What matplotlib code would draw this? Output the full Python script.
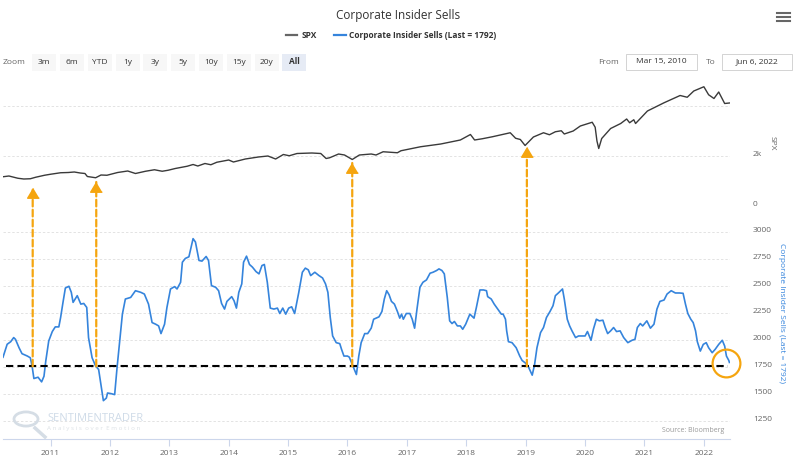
import matplotlib
matplotlib.use("Agg")
import matplotlib.pyplot as plt
from matplotlib.patches import ConnectionPatch, Rectangle, Circle
from matplotlib.lines import Line2D

plt.rcParams['font.family'] = ['Open Sans', 'DejaVu Sans']

W, H = 796, 469

# SPX weekly closes (decimal years)
spx_t = [2010.20, 2010.30, 2010.45, 2010.55, 2010.66, 2010.75, 2010.90, 2011.00, 2011.17, 2011.30,
         2011.40, 2011.50, 2011.58, 2011.62, 2011.76, 2011.85, 2011.95, 2012.13, 2012.30, 2012.43,
         2012.60, 2012.75, 2012.88, 2012.98, 2013.10, 2013.30, 2013.40, 2013.48, 2013.60, 2013.70,
         2013.80, 2014.00, 2014.08, 2014.28, 2014.50, 2014.66, 2014.79, 2014.92, 2015.02, 2015.15,
         2015.40, 2015.55, 2015.64, 2015.70, 2015.85, 2015.95, 2016.08, 2016.20, 2016.40, 2016.48,
         2016.60, 2016.84, 2016.90, 2017.23, 2017.57, 2017.90, 2018.07, 2018.14, 2018.27, 2018.44,
         2018.74, 2018.83, 2018.91, 2018.99, 2019.13, 2019.30, 2019.40, 2019.50, 2019.60, 2019.65,
         2019.80, 2019.92, 2020.12, 2020.17, 2020.20, 2020.23, 2020.28, 2020.43, 2020.60, 2020.70,
         2020.75, 2020.82, 2020.85, 2021.05, 2021.33, 2021.60, 2021.72, 2021.83, 2022.00, 2022.08,
         2022.17, 2022.25, 2022.35, 2022.43]
spx_v = [1170, 1200, 1110, 1080, 1090, 1150, 1230, 1270, 1330, 1340,
         1360, 1320, 1300, 1180, 1130, 1240, 1230, 1340, 1400, 1300,
         1390, 1450, 1390, 1430, 1500, 1590, 1660, 1600, 1700, 1650,
         1750, 1840, 1760, 1880, 1960, 2000, 1880, 2060, 2010, 2100,
         2120, 2100, 1900, 1930, 2080, 2040, 1860, 2040, 2080, 2040,
         2170, 2130, 2210, 2370, 2480, 2640, 2860, 2640, 2690, 2770,
         2930, 2710, 2660, 2420, 2760, 2930, 2850, 2970, 3010, 2880,
         3000, 3200, 3350, 3150, 2600, 2300, 2700, 3100, 3300, 3480,
         3330, 3450, 3300, 3800, 4130, 4420, 4350, 4600, 4770, 4450,
         4300, 4560, 4100, 4120]

# Corporate insider sells
ins_t = [2010.20, 2010.27, 2010.33, 2010.38, 2010.41, 2010.47, 2010.52, 2010.61, 2010.66, 2010.69,
         2010.72, 2010.79, 2010.85, 2010.89, 2010.92, 2010.97, 2011.03, 2011.08, 2011.14, 2011.17,
         2011.21, 2011.25, 2011.31, 2011.35, 2011.38, 2011.45, 2011.51, 2011.56, 2011.61, 2011.64,
         2011.70, 2011.76, 2011.81, 2011.84, 2011.89, 2011.94, 2011.96, 2012.02, 2012.08, 2012.12,
         2012.17, 2012.21, 2012.26, 2012.35, 2012.43, 2012.52, 2012.58, 2012.65, 2012.71, 2012.77,
         2012.82, 2012.86, 2012.92, 2012.96, 2013.02, 2013.09, 2013.13, 2013.19, 2013.22, 2013.27,
         2013.33, 2013.40, 2013.44, 2013.50, 2013.55, 2013.62, 2013.66, 2013.71, 2013.78, 2013.83,
         2013.88, 2013.93, 2013.97, 2014.05, 2014.09, 2014.13, 2014.17, 2014.22, 2014.25, 2014.30,
         2014.35, 2014.40, 2014.46, 2014.51, 2014.56, 2014.60, 2014.65, 2014.70, 2014.76, 2014.82,
         2014.86, 2014.91, 2014.96, 2015.01, 2015.06, 2015.11, 2015.18, 2015.24, 2015.29, 2015.34,
         2015.38, 2015.45, 2015.52, 2015.58, 2015.63, 2015.67, 2015.71, 2015.75, 2015.81, 2015.87,
         2015.90, 2015.94, 2016.00, 2016.03, 2016.08, 2016.15, 2016.19, 2016.23, 2016.29, 2016.34,
         2016.40, 2016.44, 2016.53, 2016.58, 2016.62, 2016.66, 2016.70, 2016.74, 2016.79, 2016.84,
         2016.88, 2016.91, 2016.94, 2016.99, 2017.05, 2017.09, 2017.13, 2017.17, 2017.22, 2017.27,
         2017.33, 2017.39, 2017.44, 2017.50, 2017.54, 2017.59, 2017.63, 2017.68, 2017.72, 2017.76,
         2017.80, 2017.85, 2017.90, 2017.94, 2017.99, 2018.06, 2018.13, 2018.17, 2018.23, 2018.29,
         2018.34, 2018.36, 2018.42, 2018.47, 2018.53, 2018.59, 2018.62, 2018.66, 2018.68, 2018.71,
         2018.77, 2018.84, 2018.90, 2018.94, 2018.99, 2019.04, 2019.11, 2019.15, 2019.19, 2019.25,
         2019.30, 2019.35, 2019.41, 2019.46, 2019.50, 2019.55, 2019.62, 2019.65, 2019.70, 2019.74,
         2019.78, 2019.84, 2019.89, 2019.95, 2020.00, 2020.04, 2020.10, 2020.14, 2020.19, 2020.24,
         2020.30, 2020.34, 2020.38, 2020.43, 2020.48, 2020.53, 2020.59, 2020.65, 2020.72, 2020.79,
         2020.84, 2020.88, 2020.93, 2020.97, 2021.04, 2021.10, 2021.16, 2021.21, 2021.26, 2021.33,
         2021.38, 2021.45, 2021.52, 2021.59, 2021.65, 2021.69, 2021.73, 2021.78, 2021.82, 2021.86,
         2021.89, 2021.94, 2021.99, 2022.04, 2022.08, 2022.14, 2022.19, 2022.25, 2022.31, 2022.35,
         2022.38, 2022.42, 2022.43]
ins_v = [1840, 1960, 1984, 2022, 2006, 1928, 1873, 1851, 1835, 1758,
         1643, 1655, 1612, 1664, 1804, 1991, 2078, 2121, 2121, 2208,
         2348, 2481, 2497, 2441, 2348, 2410, 2332, 2338, 2301, 2022,
         1835, 1758, 1727, 1618, 1438, 1462, 1509, 1503, 1494, 1742,
         2022, 2239, 2379, 2394, 2456, 2441, 2425, 2332, 2161, 2146,
         2130, 2059, 2146, 2301, 2472, 2494, 2472, 2534, 2720, 2755,
         2770, 2938, 2907, 2736, 2730, 2773, 2736, 2503, 2488, 2456,
         2338, 2286, 2357, 2401, 2363, 2295, 2441, 2519, 2720, 2776,
         2699, 2674, 2633, 2612, 2689, 2699, 2534, 2295, 2286, 2295,
         2245, 2295, 2239, 2295, 2307, 2245, 2441, 2627, 2665, 2649,
         2596, 2627, 2596, 2574, 2519, 2441, 2208, 2037, 1975, 1966,
         1913, 1851, 1851, 1841, 1773, 1680, 1851, 1975, 2059, 2059,
         2110, 2192, 2214, 2264, 2379, 2456, 2419, 2357, 2332, 2264,
         2202, 2239, 2192, 2245, 2245, 2192, 2109, 2286, 2488, 2534,
         2556, 2618, 2627, 2643, 2658, 2643, 2612, 2394, 2177, 2152,
         2171, 2130, 2130, 2099, 2146, 2239, 2202, 2301, 2463, 2463,
         2456, 2401, 2379, 2332, 2286, 2239, 2239, 2192, 2084, 1984,
         1975, 1928, 1851, 1810, 1789, 1758, 1674, 1773, 1928, 2068,
         2115, 2208, 2264, 2317, 2410, 2435, 2472, 2379, 2192, 2130,
         2084, 2022, 2037, 2037, 2037, 2078, 1997, 2099, 2192, 2177,
         2183, 2115, 2059, 2084, 2115, 2078, 2084, 2022, 1975, 1997,
         2006, 2115, 2152, 2130, 2177, 2109, 2146, 2286, 2357, 2370,
         2425, 2456, 2435, 2435, 2432, 2332, 2245, 2192, 2161, 2084,
         1984, 1897, 1959, 1975, 1928, 1882, 1913, 1959, 1997, 1944,
         1851, 1810, 1792]

threshold = 1755
last_value = 1792
year_ticks = list(range(2011, 2023))
spx_ticks = [0, 2000, 4000]
spx_tick_labels = ["0", "2k", ""]
ins_ticks = [1250, 1500, 1750, 2000, 2250, 2500, 2750, 3000]

# buy-signal arrows: date and where the head touches the SPX pane
arrow_dates = [2010.70, 2011.77, 2016.08, 2019.02]
arrow_tips = [720, 960, 1720, 2360]

zoom_buttons = ["3m", "6m", "YTD", "1y", "3y", "5y", "10y", "15y", "20y", "All"]
button_x = [32, 60, 88, 116, 143, 171, 199, 227, 255, 282]

BLUE = '#3584dc'
ORANGE = '#f5a50f'
GRID = '#e3e3e3'
TXT = '#666666'
AXIS = '#ccd6eb'


def fx(x):
    return x / W


def fy(y):
    return 1 - y / H


fig = plt.figure(figsize=(W / 100, H / 100), dpi=100)
ax_up = fig.add_axes([fx(3), fy(206), (730 - 3) / W, (206 - 84) / H])
ax_lo = fig.add_axes([fx(3), fy(439), (730 - 3) / W, (439 - 215) / H])

for ax in (ax_up, ax_lo):
    ax.set_facecolor('none')
    ax.set_xlim(2010.2, 2022.44)
    for s in ax.spines.values():
        s.set_visible(False)
    ax.yaxis.tick_right()
    ax.tick_params(axis='y', length=0, pad=16.5, labelsize=6, labelcolor=TXT)
    ax.grid(axis='y', color=GRID, lw=0.7, linestyle=(0, (2.5, 2)))
    ax.set_axisbelow(True)

# upper pane: SPX
ax_up.plot(spx_t, spx_v, color='#3a3a3a', lw=1.0)
ax_up.set_ylim(0, 4880)
ax_up.set_yticks(spx_ticks)
ax_up.set_yticklabels(spx_tick_labels)
ax_up.set_xticks([])
for lbl in ax_up.get_yticklabels():
    lbl.set_verticalalignment('baseline')

# lower pane: insider sells
ax_lo.plot(ins_t, ins_v, color=BLUE, lw=1.2)
ax_lo.set_ylim(1083, 3157)
ax_lo.set_yticks(ins_ticks)
for lbl in ax_lo.get_yticklabels():
    lbl.set_verticalalignment('baseline')
ax_lo.axhline(threshold, xmin=0.004, xmax=0.997, color='black', lw=1.5, dashes=(3.5, 2))
ax_lo.spines['bottom'].set_visible(True)
ax_lo.spines['bottom'].set_color(AXIS)
ax_lo.set_xticks(year_ticks)
ax_lo.tick_params(axis='x', length=5, color=AXIS, labelsize=6, labelcolor=TXT, pad=3)

# circle around latest reading
ax_lo.plot([2022.38], [1787], marker='o', ms=20, mfc='none', mec=ORANGE, mew=1.6,
           clip_on=False, zorder=6)

# dashed orange arrows from threshold crossing up to SPX
head = [(0, 0), (-0.6, -1), (0.6, -1)]
for t, tip in zip(arrow_dates, arrow_tips):
    con = ConnectionPatch(xyA=(t, threshold), coordsA=ax_lo.transData,
                          xyB=(t, tip), coordsB=ax_up.transData,
                          color=ORANGE, lw=1.6, linestyle=(0, (3, 1.5)))
    fig.add_artist(con)
    ax_up.plot([t], [tip], marker=head, ms=14, color=ORANGE, clip_on=False, zorder=5)

# axis titles
fig.text(fx(772), fy(143), "SPX", rotation=270, ha='center', va='center',
         fontsize=6, color=TXT)
fig.text(fx(782), fy(313), "Corporate Insider Sells (Last = %d)" % last_value, rotation=270,
         ha='center', va='center', fontsize=6, color=BLUE)

# title + legend
fig.text(fx(398), fy(15), "Corporate Insider Sells", ha='center', va='center',
         fontsize=8.5, color='#333333')
fig.add_artist(Line2D([fx(286), fx(297)], [fy(35), fy(35)], color='#666666', lw=1.6))
fig.text(fx(302), fy(35), "SPX", ha='left', va='center', fontsize=6, weight='bold', color='#333333')
fig.add_artist(Line2D([fx(334), fx(346)], [fy(35), fy(35)], color=BLUE, lw=1.6))
fig.text(fx(349), fy(35), "Corporate Insider Sells (Last = %d)" % last_value, ha='left',
         va='center', fontsize=6, weight='bold', color='#333333')

# hamburger menu
for yy in (13.5, 17.5, 21.5):
    fig.add_artist(Line2D([fx(777), fx(790)], [fy(yy), fy(yy)], color='#666666', lw=1.5))

# range selector
fig.text(fx(3), fy(62), "Zoom", ha='left', va='center', fontsize=6, color=TXT)
for name, x0 in zip(zoom_buttons, button_x):
    sel = name == "All"
    fig.add_artist(Rectangle((fx(x0), fy(71)), 24 / W, 17 / H, transform=fig.transFigure,
                             facecolor='#e6ebf5' if sel else '#f7f7f7', edgecolor='none'))
    fig.text(fx(x0 + 12), fy(62), name, ha='center', va='center', fontsize=6,
             color='#333333', weight='bold' if sel else 'normal')

fig.text(fx(598), fy(62), "From", ha='left', va='center', fontsize=6, color=TXT)
fig.text(fx(706), fy(62), "To", ha='left', va='center', fontsize=6, color=TXT)
for x0, x1, label in ((626, 697, "Mar 15, 2010"), (722, 792, "Jun 6, 2022")):
    fig.add_artist(Rectangle((fx(x0), fy(70)), (x1 - x0) / W, 16 / H, transform=fig.transFigure,
                             facecolor='white', edgecolor='#cccccc', lw=0.6))
    fig.text(fx((x0 + x1) / 2), fy(62), label, ha='center', va='center', fontsize=6,
             color='#333333')

# watermark
fig.add_artist(Circle((fx(26), fy(419)), 12 / W, transform=fig.transFigure, facecolor='none',
                      edgecolor='#d5dde5', lw=2))
fig.add_artist(Line2D([fx(35), fx(45)], [fy(428), fy(437)], color='#d5dde5', lw=2.5))
fig.text(fx(47), fy(418), "SENTIMENTRADER", ha='left', va='center', fontsize=8,
         color='#cfdbe8')
fig.text(fx(47), fy(428), "A n a l y s i s  o v e r  E m o t i o n", ha='left', va='center',
         fontsize=4.5, color='#dde2e6')

fig.text(fx(724), fy(431), "Source: Bloomberg", ha='right', va='center', fontsize=5,
         color='#999999')

fig.savefig("out.png", dpi=100)
